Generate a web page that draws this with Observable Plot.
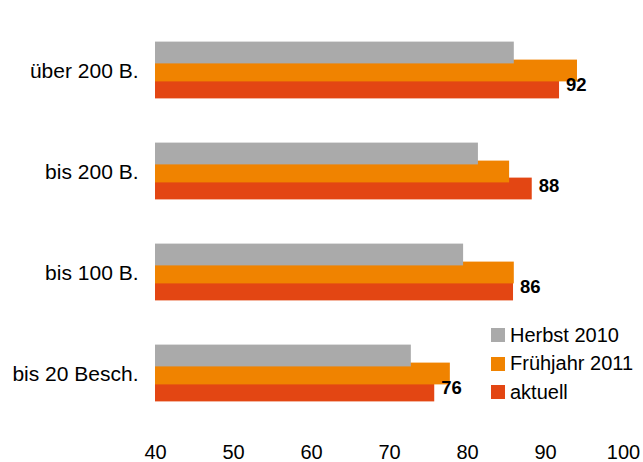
<!DOCTYPE html>
<html>
<head>
<meta charset="utf-8">
<script src="https://cdn.jsdelivr.net/npm/d3@7"></script>
<script src="https://cdn.jsdelivr.net/npm/@observablehq/plot@0.6"></script>
<style>
  body { margin: 0; background: #fff; font-family: "Liberation Sans", Arial, sans-serif; }
  #wrap { position: relative; width: 643px; height: 462px; }
  #legend { position: absolute; left: 491px; top: 321px; font-size: 20px; color: #000; }
  .row { display: flex; align-items: center; height: 28.5px; }
  .sw { width: 14px; height: 14px; margin-right: 5px; }
</style>
</head>
<body>
<div id="wrap"><div id="legend"></div></div>
<script>
const categories = ["über 200 B.", "bis 200 B.", "bis 100 B.", "bis 20 Besch."];
const series = ["Herbst 2010", "Frühjahr 2011", "aktuell"];
const colors = ["#aaaaaa", "#f08300", "#e34613"];
const herbst2010 = [86.0, 81.4, 79.5, 72.8];
const fruehjahr2011 = [94.1, 85.4, 86.0, 77.8];
const aktuell = [91.8, 88.3, 85.9, 75.8];
const xTicks = [40, 50, 60, 70, 80, 90, 100];

const xMin = xTicks[0], xMax = xTicks[xTicks.length - 1];
const toRows = (vals, s) => categories.map((c, i) => ({category: c, series: s, value: vals[i]}));
const rowsH = toRows(herbst2010, series[0]);
const rowsF = toRows(fruehjahr2011, series[1]);
const rowsA = toRows(aktuell, series[2]);

const inset = 39.6;
const barOpts = (dy) => ({
  y: "category", x1: () => xMin, x2: "value", fill: "series",
  insetTop: inset, insetBottom: inset, dy
});

const chart = Plot.plot({
  width: 643,
  height: 462,
  marginLeft: 155,
  marginRight: 20,
  marginTop: 19,
  marginBottom: 37,
  style: {fontFamily: "'Liberation Sans', Arial, sans-serif", background: "transparent"},
  x: {domain: [xMin, xMax], ticks: xTicks, tickSize: 0, tickPadding: 19, label: null, line: false},
  y: {domain: categories, padding: 0, tickSize: 0, tickPadding: 17, label: null},
  color: {domain: series, range: colors},
  marks: [
    Plot.barX(rowsA, barOpts(17)),
    Plot.barX(rowsF, barOpts(0)),
    Plot.barX(rowsH, barOpts(-18)),
    Plot.text(rowsA, {
      y: "category", x: "value", text: d => String(Math.round(d.value)),
      textAnchor: "start", dx: 6.5, dy: 14, fontWeight: "bold", fontSize: 18.5, fill: "#000"
    })
  ]
});
chart.querySelectorAll('[aria-label="x-axis tick label"] text').forEach(t => t.style.fontSize = "20px");
chart.querySelectorAll('[aria-label="y-axis tick label"] text').forEach(t => t.style.fontSize = "21px");
chart.querySelectorAll('[aria-label="x-axis tick label"], [aria-label="y-axis tick label"]').forEach(g => { g.setAttribute("fill", "#000"); });
document.getElementById("wrap").prepend(chart);

const legend = document.getElementById("legend");
series.forEach((s, i) => {
  const row = document.createElement("div");
  row.className = "row";
  const sw = document.createElement("div");
  sw.className = "sw";
  sw.style.background = colors[i];
  const label = document.createElement("span");
  label.textContent = s;
  row.append(sw, label);
  legend.append(row);
});
</script>
</body>
</html>
